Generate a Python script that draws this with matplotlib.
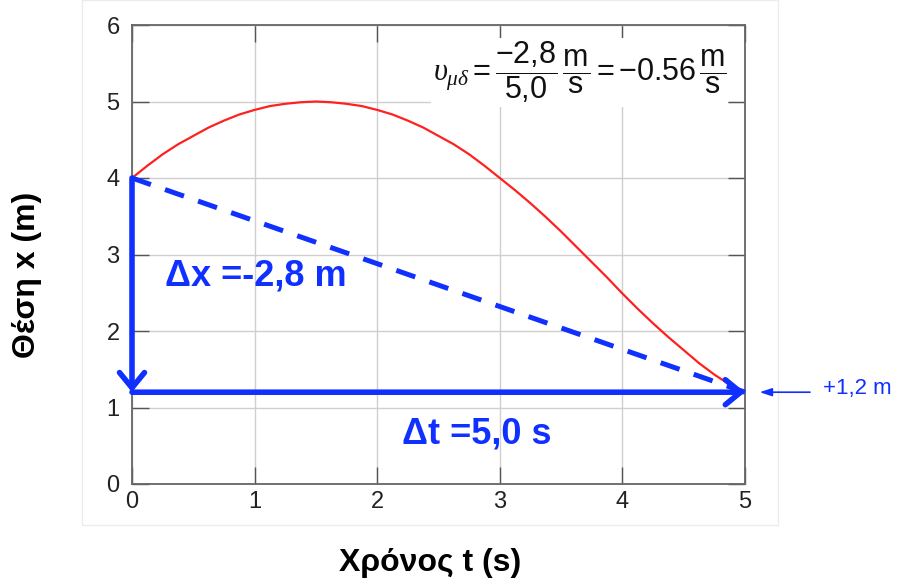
import matplotlib
matplotlib.use("Agg")
import matplotlib.pyplot as plt
from matplotlib.patches import Rectangle

plt.rcParams['font.family'] = ['Liberation Sans', 'DejaVu Sans']
plt.rcParams['mathtext.fontset'] = 'custom'
plt.rcParams['mathtext.rm'] = 'Liberation Sans'
plt.rcParams['mathtext.it'] = 'Liberation Serif:italic'

# data
t = [0, 0.125, 0.25, 0.375, 0.5, 0.625, 0.75, 0.875, 1, 1.125, 1.25, 1.375,
     1.5, 1.625, 1.75, 1.875, 2, 2.125, 2.25, 2.375, 2.5, 2.625, 2.75, 2.875,
     3, 3.125, 3.25, 3.375, 3.5, 3.625, 3.75, 3.875, 4, 4.125, 4.25, 4.375,
     4.5, 4.625, 4.75, 4.875, 5]
x = [4.0, 4.16, 4.31, 4.44, 4.55, 4.66, 4.75, 4.83, 4.89, 4.94, 4.97, 4.99,
     5.0, 4.99, 4.97, 4.94, 4.89, 4.83, 4.75, 4.66, 4.55, 4.44, 4.31, 4.16,
     4.0, 3.84, 3.67, 3.49, 3.3, 3.1, 2.9, 2.7, 2.49, 2.29, 2.1, 1.92,
     1.75, 1.58, 1.43, 1.3, 1.2]
t0, t1 = 0, 5
x0, x1 = 4.0, 1.2
xticks = [0, 1, 2, 3, 4, 5]
yticks = [0, 1, 2, 3, 4, 5, 6]

blue = '#1030ff'
red = '#ff2020'

fig = plt.figure(figsize=(9, 5.81), dpi=100)
# faint panel behind the chart
fig.patches.append(Rectangle((82 / 900, 1 - 525 / 581), 696 / 900, 525 / 581,
                             transform=fig.transFigure, facecolor='white',
                             edgecolor='#ececec', lw=1, zorder=-5))

ax = fig.add_axes([132 / 900, 1 - 484 / 581, 613 / 900, 459 / 581])
ax.set_zorder(1)
ax.set_facecolor('white')
ax.set_xlim(0, 5)
ax.set_ylim(0, 6)
ax.set_xticks(xticks)
ax.set_yticks(yticks)
ax.grid(True, color='#cfcfcf', lw=1)
ax.set_axisbelow(True)
ax.tick_params(direction='in', length=12, width=1, color='#555555',
               top=True, right=True, labelsize=17, labelcolor='#222222')
ax.tick_params(axis='y', pad=9)
ax.tick_params(axis='x', pad=5)
for s in ax.spines.values():
    s.set_color('#666666')
    s.set_linewidth(1.3)

# position curve
ax.plot(t, x, color=red, lw=1.6, zorder=3)

# secant line (dashed)
ax.plot([t0, t1], [x0, x1], color=blue, lw=3.6, linestyle=(0, (4, 3)),
        zorder=4, clip_on=False)

# delta-x arrow
ax.annotate('', xy=(t0, x1), xytext=(t0, x0),
            arrowprops=dict(arrowstyle='->,head_length=0.55,head_width=0.45',
                            lw=4, color=blue, shrinkA=0, shrinkB=0,
                            mutation_scale=20),
            annotation_clip=False, zorder=5)
# delta-t arrow
ax.annotate('', xy=(t1, x1), xytext=(t0, x1),
            arrowprops=dict(arrowstyle='->,head_length=0.55,head_width=0.45',
                            lw=4, color=blue, shrinkA=0, shrinkB=0,
                            mutation_scale=20),
            annotation_clip=False, zorder=5)

ax.text(0.27, 2.72, 'Δx =-2,8 m', color=blue, fontsize=26, fontweight='bold',
        ha='left', va='center')
ax.text(2.2, 0.65, 'Δt =5,0 s', color=blue, fontsize=26, fontweight='bold',
        ha='left', va='center')

# +1,2 m marker outside the axes
ax.annotate('', xy=(5.12, x1), xytext=(5.53, x1),
            arrowprops=dict(arrowstyle='-|>,head_length=0.6,head_width=0.2',
                            lw=1.2, color=blue, shrinkA=0, shrinkB=0,
                            mutation_scale=12),
            annotation_clip=False)
ax.text(5.64, 1.25, '+1,2 m', color=blue, fontsize=16, ha='left',
        va='center', clip_on=False)

# average velocity formula
ax.text(3.65, 5.38,
        r'$\upsilon_{\mu\delta} = \dfrac{-2{,}8}{5{,}0}\,\dfrac{\mathrm{m}}{\mathrm{s}}'
        r' = -0.56\,\dfrac{\mathrm{m}}{\mathrm{s}}$',
        fontsize=22, ha='center', va='center', color='#111111',
        bbox=dict(facecolor='white', edgecolor='none', pad=1))

fig.text(27 / 900, 1 - 275 / 581, 'Θέση x (m)', rotation=90, fontsize=23,
         fontweight='bold', ha='center', va='center')
fig.text(430 / 900, 1 - 563 / 581, 'Χρόνος t (s)', fontsize=23,
         fontweight='bold', ha='center', va='center')

fig.savefig('out.png', dpi=100)
